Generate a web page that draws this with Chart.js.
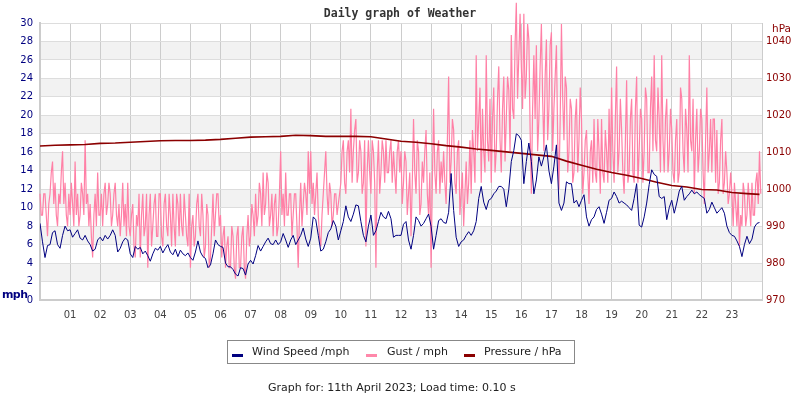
<!DOCTYPE html>
<html>
<head>
<meta charset="utf-8">
<script src="https://cdn.jsdelivr.net/npm/chart.js@4.4.0/dist/chart.umd.min.js"></script>
<style>
  body { margin: 0; background: #fff; }
  #wrap { position: relative; width: 800px; height: 400px; font-family: "DejaVu Sans", sans-serif; }
  #chart { position: absolute; left: 0; top: 0; }
  .title { position: absolute; top: 6px; left: 0; width: 800px; text-align: center;
           font: bold 11.5px "DejaVu Sans Mono", monospace; color: #333; }
  .unit-left { position: absolute; left: 2px; top: 288px; font: bold 11px "DejaVu Sans", sans-serif; color: #000080; letter-spacing: -0.6px; }
  .unit-right { position: absolute; left: 772px; top: 22px; font: 10.5px "DejaVu Sans", sans-serif; color: #8b0000; }
  .legend { position: absolute; left: 227px; top: 340px; width: 346px; height: 22px; border: 1px solid #888; }
  .legend .mk { position: absolute; top: 13px; width: 11px; height: 3px; }
  .legend .tx { position: absolute; top: 4px; font: 11px "DejaVu Sans", sans-serif; color: #222; white-space: nowrap; }
  .footer { position: absolute; left: 268px; top: 381px; font: 11px "DejaVu Sans", sans-serif; color: #222; white-space: nowrap; }
</style>
</head>
<body>
<div id="wrap">
  <canvas id="chart" width="800" height="400"></canvas>
  <div class="title">Daily graph of Weather</div>
  <div class="unit-left">mph</div>
  <div class="unit-right">hPa</div>
  <div class="legend">
    <span class="mk" style="left:4px;background:#000080"></span><span class="tx" style="left:24px">Wind Speed /mph</span>
    <span class="mk" style="left:138px;background:#ff88aa"></span><span class="tx" style="left:159px">Gust / mph</span>
    <span class="mk" style="left:236px;background:#8b0000"></span><span class="tx" style="left:256px">Pressure / hPa</span>
  </div>
  <div class="footer">Graph for: 11th April 2023; Load time: 0.10 s</div>
</div>
<script>
// wind readings every 5 minutes, one row per hour (00 .. 23)
const windSpeed = [
  8.3, 6.3, 4.6, 5.9, 6.0, 7.3, 7.5, 6.0, 5.6, 7.0, 8.0, 7.5,
  7.6, 6.8, 7.2, 7.6, 6.7, 6.5, 7.0, 6.4, 6.0, 5.3, 5.5, 6.5,
  6.8, 6.4, 7.0, 6.6, 7.0, 7.6, 7.0, 5.2, 5.6, 6.3, 6.7, 6.5,
  5.0, 4.6, 5.8, 5.5, 5.7, 5.0, 5.3, 4.8, 4.2, 5.0, 5.6, 5.4,
  5.8, 5.1, 5.6, 6.0, 5.2, 4.9, 5.5, 4.7, 5.4, 5.0, 4.8, 5.1,
  4.6, 4.3, 5.2, 6.4, 5.2, 4.7, 4.5, 3.5, 3.8, 5.0, 6.5, 6.0,
  5.8, 5.7, 4.0, 3.6, 3.6, 3.3, 2.8, 2.6, 3.5, 3.4, 2.7, 3.9,
  4.3, 3.9, 4.8, 5.9, 5.3, 5.8, 6.3, 6.7, 6.1, 6.0, 6.5, 6.0,
  6.3, 7.2, 6.5, 5.7, 6.5, 7.0, 6.0, 6.5, 7.0, 7.8, 6.6, 5.8,
  6.7, 9.0, 8.7, 7.0, 5.3, 5.5, 6.3, 7.3, 7.7, 8.6, 8.0, 6.5,
  7.5, 8.5, 10.2, 9.0, 8.5, 9.3, 10.3, 10.2, 8.5, 7.0, 6.3, 8.0,
  9.2, 7.0, 7.5, 8.5, 9.5, 9.0, 8.8, 9.6, 8.8, 6.8, 7.0, 7.0,
  7.0, 8.2, 8.5, 6.5, 5.5, 7.0, 9.0, 8.6, 8.0, 8.3, 8.8, 9.3,
  8.0, 5.5, 7.0, 8.6, 8.8, 8.4, 8.3, 9.5, 13.7, 9.7, 6.8, 5.8,
  6.3, 6.5, 7.0, 7.4, 7.0, 7.5, 8.5, 11.0, 12.3, 10.6, 9.8, 10.8,
  11.0, 11.5, 11.8, 12.3, 12.3, 12.0, 10.1, 12.0, 15.0, 16.2, 18.0, 17.8,
  17.3, 12.6, 15.0, 17.0, 15.0, 11.5, 13.0, 15.5, 14.5, 15.5, 16.8, 14.0,
  12.6, 14.5, 16.8, 10.5, 9.7, 10.5, 12.8, 12.6, 12.6, 10.5, 10.8, 10.1,
  10.8, 11.4, 9.0, 8.0, 8.7, 9.0, 9.8, 10.1, 9.3, 8.3, 9.5, 10.8,
  11.0, 11.7, 11.2, 10.5, 10.7, 10.5, 10.3, 10.0, 9.7, 11.0, 12.6, 8.1,
  7.9, 9.0, 10.5, 12.5, 14.1, 13.6, 13.4, 11.2, 11.0, 11.2, 8.7, 10.0,
  10.8, 9.4, 10.5, 11.8, 12.3, 10.8, 11.2, 11.5, 11.9, 11.5, 11.7, 11.4,
  11.2, 11.0, 9.4, 9.8, 10.6, 10.0, 9.4, 9.7, 10.0, 9.4, 8.0, 7.3,
  7.0, 6.9, 6.4, 5.8, 4.7, 6.0, 6.9, 6.1, 6.6, 7.9, 8.3, 8.4
];

// gust readings every 2.5 minutes, one row per hour
const gust = [
  11.5, 9.2, 9.2, 11.5, 11.5, 9.2, 6.9, 10.4, 11.5, 13.8, 15.0, 10.4, 12.7, 9.2, 8.0, 11.5, 10.4, 13.8, 16.1, 10.4, 12.7, 9.2, 8.0, 11.5,
  9.2, 12.7, 10.4, 8.0, 15.0, 9.2, 11.5, 8.0, 9.2, 12.7, 11.5, 9.2, 17.3, 10.4, 11.5, 8.0, 10.4, 6.9, 4.6, 9.2, 11.5, 8.0, 13.8, 9.2,
  9.2, 11.5, 8.0, 11.5, 12.7, 9.2, 10.4, 12.7, 11.5, 8.0, 9.2, 11.5, 12.7, 9.2, 8.0, 10.4, 6.9, 9.2, 12.7, 8.0, 10.4, 6.9, 12.7, 8.0,
  6.9, 9.2, 10.4, 5.8, 4.6, 9.2, 8.0, 11.5, 4.6, 9.2, 11.5, 6.9, 8.0, 11.5, 3.5, 9.2, 11.5, 5.8, 8.0, 10.4, 11.5, 6.9, 6.9, 11.5,
  11.5, 6.9, 5.8, 10.4, 11.5, 8.0, 6.9, 11.5, 9.2, 5.8, 11.5, 8.0, 5.8, 11.5, 10.4, 6.9, 11.5, 8.0, 6.9, 11.5, 9.2, 6.9, 5.8, 11.5,
  3.5, 8.0, 9.2, 5.8, 6.9, 10.4, 11.5, 8.0, 6.9, 11.5, 9.2, 4.6, 5.8, 10.4, 9.2, 3.5, 4.6, 8.0, 11.5, 6.9, 9.2, 11.5, 11.5, 8.0,
  9.2, 4.6, 6.9, 8.0, 3.5, 5.8, 6.9, 3.5, 3.5, 8.0, 6.9, 3.5, 2.3, 6.9, 8.0, 3.5, 3.5, 6.9, 8.0, 3.5, 2.3, 6.9, 9.2, 5.8,
  6.9, 10.4, 9.2, 6.9, 11.5, 8.0, 9.2, 12.7, 11.5, 8.0, 13.8, 9.2, 10.4, 13.8, 12.7, 8.0, 9.2, 11.5, 6.9, 10.4, 11.5, 6.9, 8.0, 11.5,
  16.1, 9.2, 11.5, 8.0, 13.8, 9.2, 9.2, 11.5, 11.5, 6.9, 9.2, 11.5, 11.5, 8.0, 3.5, 9.2, 12.7, 8.0, 10.4, 12.7, 11.5, 9.2, 16.1, 11.5,
  16.1, 10.4, 12.7, 9.2, 11.5, 13.8, 9.2, 6.9, 5.8, 9.2, 11.5, 13.8, 16.1, 11.5, 9.2, 12.7, 11.5, 8.0, 9.2, 11.5, 11.5, 9.2, 10.4, 11.5,
  12.7, 16.1, 17.3, 12.7, 11.5, 16.1, 17.3, 13.8, 20.7, 12.7, 16.1, 18.4, 19.6, 12.7, 13.8, 17.3, 16.1, 11.5, 12.7, 17.3, 5.8, 13.8, 17.3, 13.8,
  11.5, 17.3, 16.1, 12.7, 3.5, 13.8, 17.3, 11.5, 13.8, 17.3, 16.1, 12.7, 17.3, 13.8, 13.8, 16.1, 17.3, 12.7, 16.1, 13.8, 11.5, 16.1, 17.3, 13.8,
  16.1, 10.4, 12.7, 16.1, 15.0, 9.2, 11.5, 13.8, 6.9, 12.7, 19.6, 13.8, 11.5, 17.3, 16.1, 9.2, 10.4, 15.0, 12.7, 16.1, 18.4, 11.5, 9.2, 13.8,
  3.5, 12.7, 20.7, 13.8, 11.5, 16.1, 17.3, 11.5, 15.0, 12.7, 16.1, 12.7, 10.4, 17.3, 24.2, 12.7, 15.0, 19.6, 18.4, 12.7, 11.5, 16.1, 17.3, 9.2,
  11.5, 13.8, 8.0, 11.5, 15.0, 10.4, 12.7, 17.3, 11.5, 18.4, 16.1, 12.7, 26.5, 16.1, 19.6, 23.0, 12.7, 20.7, 16.1, 13.8, 26.5, 17.3, 15.0, 21.8,
  12.7, 19.6, 23.0, 13.8, 16.1, 21.8, 25.3, 17.3, 13.8, 20.7, 24.2, 15.0, 19.6, 24.2, 22.7, 16.1, 28.7, 20.7, 19.6, 27.6, 32.2, 21.8, 26.5, 31.0,
  25.3, 20.7, 31.0, 21.8, 24.2, 29.9, 28.2, 18.4, 11.5, 20.7, 26.5, 19.6, 27.6, 16.1, 19.6, 25.3, 29.9, 21.8, 16.1, 24.2, 28.2, 17.3, 20.7, 27.6,
  29.0, 16.1, 20.7, 24.2, 27.6, 17.3, 12.0, 19.6, 29.9, 21.8, 17.3, 24.2, 23.0, 13.8, 16.1, 21.8, 20.7, 12.7, 13.8, 19.6, 21.8, 13.8, 17.3, 23.0,
  19.6, 11.5, 13.8, 17.3, 18.4, 13.8, 10.4, 16.1, 17.3, 12.7, 19.6, 13.8, 12.7, 19.6, 16.1, 11.5, 19.6, 13.8, 12.7, 18.4, 16.1, 12.7, 20.7, 13.8,
  23.0, 16.1, 12.7, 19.6, 25.3, 13.8, 16.1, 21.8, 18.4, 13.8, 11.5, 17.3, 23.8, 12.7, 13.8, 19.6, 21.8, 13.8, 12.7, 20.7, 24.2, 12.7, 16.1, 20.7,
  19.6, 12.7, 16.1, 23.0, 21.8, 13.8, 13.8, 20.7, 24.2, 16.1, 26.5, 17.3, 16.1, 23.0, 19.6, 13.8, 26.5, 17.3, 13.8, 19.6, 21.8, 13.8, 16.1, 20.7,
  18.4, 13.8, 12.7, 17.3, 19.6, 12.7, 13.8, 23.0, 21.8, 16.1, 13.8, 20.7, 18.4, 13.8, 26.5, 17.3, 16.1, 21.8, 11.5, 17.3, 20.7, 13.8, 16.1, 20.7,
  19.6, 13.8, 10.4, 17.3, 23.0, 13.8, 16.1, 19.6, 13.8, 19.6, 19.6, 12.7, 18.4, 11.5, 12.7, 17.3, 19.6, 11.5, 12.7, 16.1, 13.8, 10.4, 11.5, 13.8,
  11.5, 8.0, 12.7, 10.4, 8.0, 11.5, 5.8, 9.2, 8.0, 12.7, 11.5, 8.0, 9.2, 12.7, 10.4, 8.0, 12.7, 9.2, 9.2, 12.7, 13.8, 10.4, 16.1, 11.5
];

// half-hourly pressure, last value is the 23:55 reading
const pressure = [
  1011.7, 1011.9, 1012.0, 1012.1, 1012.4, 1012.5, 1012.7, 1012.9,
  1013.1, 1013.2, 1013.2, 1013.3, 1013.5, 1013.8, 1014.1, 1014.2,
  1014.3, 1014.6, 1014.5, 1014.3, 1014.3, 1014.3, 1014.2, 1013.6,
  1013.0, 1012.7, 1012.3, 1011.8, 1011.4, 1010.9, 1010.5, 1010.1,
  1009.7, 1009.3, 1008.9, 1007.6, 1006.5, 1005.4, 1004.5, 1003.8,
  1002.9, 1001.9, 1001.0, 1000.6, 999.9, 999.8, 999.1, 998.8,
  998.6
];

const hourTicks = [1, 2, 3, 4, 5, 6, 7, 8, 9, 10, 11, 12, 13, 14, 15, 16, 17, 18, 19, 20, 21, 22, 23];
const mphTicks = [0, 2, 4, 6, 8, 10, 12, 14, 16, 18, 20, 22, 24, 26, 28, 30];
const hPaTicks = [970, 980, 990, 1000, 1010, 1020, 1030, 1040];

const everyMinutes = (m) => (v, i) => ({ x: i * m / 60, y: v });
const halfHour = (v, i) => ({ x: i < pressure.length - 1 ? i * 0.5 : 287 * 5 / 60, y: v });

// grey bands every other 2 mph, under the grid
const bands = {
  id: 'bands',
  beforeDraw(chart) {
    const { ctx, chartArea: a, scales: { y } } = chart;
    ctx.save();
    ctx.fillStyle = '#f2f2f2';
    for (let v = 2; v < 30; v += 4) {
      const top = y.getPixelForValue(v + 2), bot = y.getPixelForValue(v);
      ctx.fillRect(a.left, top, a.right - a.left, bot - top);
    }
    ctx.restore();
  }
};

const font = { family: 'DejaVu Sans', size: 10 };

new Chart(document.getElementById('chart'), {
  type: 'line',
  data: {
    datasets: [
      {
        label: 'Wind Speed /mph',
        data: windSpeed.map(everyMinutes(5)),
        borderColor: '#000080',
        borderWidth: 1,
        yAxisID: 'y',
        order: 0,
      },
      {
        label: 'Pressure / hPa',
        data: pressure.map(halfHour),
        borderColor: '#8b0000',
        borderWidth: 1.6,
        yAxisID: 'y1',
        order: 1,
      },
      {
        label: 'Gust / mph',
        data: gust.map(everyMinutes(2.5)),
        borderColor: '#ff80a6',
        borderWidth: 1.2,
        yAxisID: 'y',
        clip: false,
        order: 2,
      },
    ],
  },
  options: {
    responsive: false,
    animation: false,
    parsing: false,
    elements: { point: { radius: 0 }, line: { tension: 0 } },
    layout: { padding: { top: 23, left: 0, right: 0, bottom: 0 } },
    scales: {
      x: {
        type: 'linear',
        min: 0,
        max: 24,
        afterBuildTicks: (ax) => { ax.ticks = hourTicks.map((v) => ({ value: v })); },
        afterFit: (ax) => { ax.height = 100; },
        grid: { color: '#cccccc', drawTicks: false },
        border: { color: '#cccccc', width: 2 },
        ticks: {
          padding: 9,
          color: '#444444',
          font,
          maxRotation: 0,
          autoSkip: false,
          callback: (v) => String(v).padStart(2, '0'),
        },
      },
      y: {
        position: 'left',
        min: 0,
        max: 30,
        afterBuildTicks: (ax) => { ax.ticks = mphTicks.map((v) => ({ value: v })); },
        afterFit: (ax) => { ax.width = 40; },
        grid: { color: '#dddddd', drawTicks: false },
        border: { color: '#cccccc', width: 2 },
        ticks: { padding: 7, color: '#000080', font, callback: (v) => String(v) },
      },
      y1: {
        position: 'right',
        min: 970,
        max: 1045,
        afterBuildTicks: (ax) => { ax.ticks = hPaTicks.map((v) => ({ value: v })); },
        afterFit: (ax) => { ax.width = 38; },
        grid: { drawOnChartArea: false, drawTicks: false },
        border: { color: '#cccccc', width: 1 },
        ticks: { padding: 4, color: '#8b0000', font, callback: (v) => String(v) },
      },
    },
    plugins: {
      legend: { display: false },
      tooltip: { enabled: false },
    },
  },
  plugins: [bands],
});
</script>
</body>
</html>
